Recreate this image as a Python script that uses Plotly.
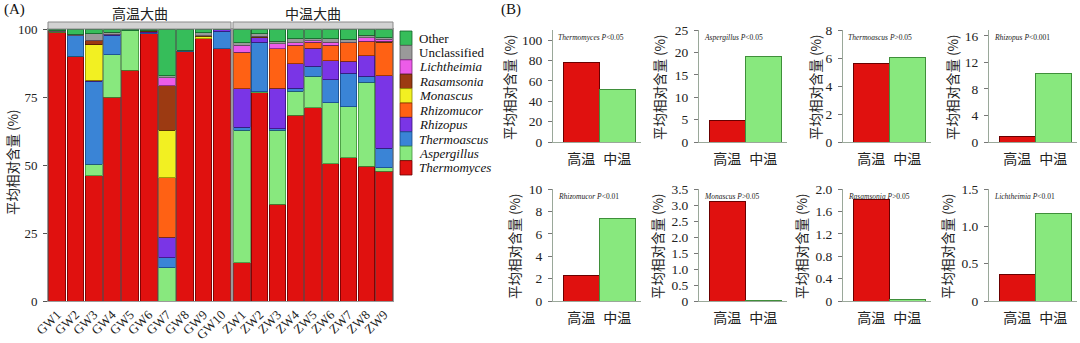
import plotly.graph_objects as go

W, H = 1080, 343

# ---------------- Panel A data ----------------
genera = ["Thermomyces", "Aspergillus", "Thermoascus", "Rhizopus", "Rhizomucor",
          "Monascus", "Rasamsonia", "Lichtheimia", "Unclassified", "Other"]
colors = ["#e0110f", "#88e87e", "#3a84d6", "#7a35e6", "#ff6114",
          "#f2f022", "#9c3a12", "#ec5ce8", "#9a9a9a", "#36bd5a"]
outlines = ["#6a0000", "#3f8f3a", "#174a86", "#3a137a", "#8a2c00",
            "#8a8a00", "#4a1a05", "#7a247a", "#555555", "#145f28"]

gw_samples = ["GW1", "GW2", "GW3", "GW4", "GW5", "GW6", "GW7", "GW8", "GW9", "GW10"]
zw_samples = ["ZW1", "ZW2", "ZW3", "ZW4", "ZW5", "ZW6", "ZW7", "ZW8", "ZW9"]

gw_thermomyces = [98.8, 90.0, 46.1, 74.9, 84.8, 98.2, 0.0, 91.8, 96.5, 92.7]
gw_aspergillus = [0.2, 0.0, 4.1, 15.7, 14.6, 0.0, 12.2, 0.0, 0.0, 0.0]
gw_thermoascus = [0.0, 7.7, 30.6, 7.1, 0.0, 0.4, 3.7, 0.2, 0.0, 6.4]
gw_rhizopus = [0.0, 0.0, 0.3, 0.3, 0.0, 0.5, 7.6, 0.0, 0.0, 0.9]
gw_rhizomucor = [0.0, 0.0, 0.0, 0.0, 0.0, 0.0, 21.8, 0.0, 0.0, 0.0]
gw_monascus = [0.0, 0.0, 13.1, 0.0, 0.0, 0.0, 17.4, 0.0, 0.8, 0.0]
gw_rasamsonia = [0.2, 0.0, 1.6, 0.0, 0.0, 0.3, 16.5, 0.0, 0.3, 0.0]
gw_lichtheimia = [0.0, 0.0, 0.0, 0.0, 0.0, 0.0, 2.8, 0.0, 0.0, 0.0]
gw_unclassified = [0.1, 0.3, 2.4, 0.8, 0.0, 0.0, 0.9, 0.1, 1.0, 0.0]
gw_other = [0.7, 2.0, 1.8, 1.2, 0.6, 0.6, 17.1, 7.9, 1.4, 0.0]

zw_thermomyces = [14.1, 76.5, 35.5, 68.3, 71.0, 50.4, 52.6, 49.6, 47.7]
zw_aspergillus = [48.7, 0.4, 27.3, 8.8, 11.6, 22.4, 18.8, 30.8, 1.3]
zw_thermoascus = [1.1, 18.2, 0.5, 1.2, 3.7, 8.6, 12.4, 2.2, 7.1]
zw_rhizopus = [14.1, 1.8, 15.0, 9.0, 6.7, 7.0, 4.3, 7.6, 26.8]
zw_rhizomucor = [13.4, 0.0, 14.4, 6.7, 2.1, 5.6, 6.8, 5.3, 12.2]
zw_monascus = [0.0, 0.0, 0.0, 0.0, 0.0, 0.0, 0.0, 0.0, 0.0]
zw_rasamsonia = [0.0, 0.5, 0.0, 0.0, 0.0, 0.0, 0.0, 0.0, 0.4]
zw_lichtheimia = [2.6, 0.0, 1.8, 0.9, 0.6, 1.1, 0.3, 1.2, 0.8]
zw_unclassified = [0.9, 0.9, 1.0, 1.6, 0.8, 1.4, 1.1, 1.0, 0.5]
zw_other = [5.1, 1.7, 4.5, 3.5, 3.5, 3.5, 3.7, 2.3, 3.2]

gw_values = [gw_thermomyces, gw_aspergillus, gw_thermoascus, gw_rhizopus, gw_rhizomucor,
             gw_monascus, gw_rasamsonia, gw_lichtheimia, gw_unclassified, gw_other]
zw_values = [zw_thermomyces, zw_aspergillus, zw_thermoascus, zw_rhizopus, zw_rhizomucor,
             zw_monascus, zw_rasamsonia, zw_lichtheimia, zw_unclassified, zw_other]

facet_titles = ["高温大曲", "中温大曲"]
a_ticks = [0, 25, 50, 75, 100]

# ---------------- Panel B data ----------------
b_genera = ["Thermomyces", "Aspergillus", "Thermoascus", "Rhizopus",
            "Rhizomucor", "Monascus", "Rasamsonia", "Lichtheimia"]
b_pvals = ["&lt;0.05", "&lt;0.05", "&gt;0.05", "&lt;0.001",
           "&lt;0.01", "&gt;0.05", "&gt;0.05", "&lt;0.01"]
b_groups = ["高温", "中温"]
b_high = [78.0, 4.9, 5.6, 0.8, 2.3, 3.1, 1.82, 0.36]
b_mid = [52.0, 19.1, 6.05, 10.3, 7.35, 0.015, 0.03, 1.17]
b_ymax = [110, 25, 8, 16.9, 10, 3.5, 2.0, 1.5]
b_tickvals = [[0, 20, 40, 60, 80, 100], [0, 5, 10, 15, 20, 25], [0, 2, 4, 6, 8],
              [0, 4, 8, 12, 16], [0, 2, 4, 6, 8, 10], [0, 0.5, 1, 1.5, 2, 2.5, 3, 3.5],
              [0, 0.4, 0.8, 1.2, 1.6, 2.0], [0, 0.5, 1.0, 1.5]]
b_ticktext = [["0", "20", "40", "60", "80", "100"], ["0", "5", "10", "15", "20", "25"],
              ["0", "2", "4", "6", "8"], ["0", "4", "8", "12", "16"],
              ["0", "2", "4", "6", "8", "10"],
              ["0", "0.5", "1.0", "1.5", "2.0", "2.5", "3.0", "3.5"],
              ["0", "0.4", "0.8", "1.2", "1.6", "2.0"], ["0", "0.5", "1.0", "1.5"]]

SERIF = "Liberation Serif, Times New Roman, Noto Sans CJK SC, serif"
CJK = "Noto Sans CJK SC, Liberation Serif, serif"

def px(x):
    return x / W

def py(y):
    return 1 - y / H

fig = go.Figure()

# ---------------- Panel A ----------------
a_left = [(48, 231), (233, 393)]
a_top, a_bot = 29, 301

for fi, (samples, values) in enumerate([(gw_samples, gw_values), (zw_samples, zw_values)]):
    xa = "x" if fi == 0 else "x2"
    ya = "y" if fi == 0 else "y2"
    for gi, g in enumerate(genera):
        fig.add_trace(go.Bar(
            x=samples, y=values[gi], name=g, xaxis=xa, yaxis=ya,
            marker=dict(color=colors[gi], line=dict(color=outlines[gi], width=0.8)),
            showlegend=False,
        ))

axis_common_a = dict(showgrid=False, zeroline=False, showline=True, linecolor="#9a9a9a",
                     linewidth=1, mirror=True, automargin=False)
fig.update_layout(
    xaxis=dict(domain=[px(a_left[0][0]), px(a_left[0][1])], anchor="y",
               tickangle=-45, tickfont=dict(family=SERIF, size=13, color="#222"),
               ticks="", **axis_common_a),
    xaxis2=dict(domain=[px(a_left[1][0]), px(a_left[1][1])], anchor="y2",
                tickangle=-45, tickfont=dict(family=SERIF, size=13, color="#222"),
                ticks="", **axis_common_a),
    yaxis=dict(domain=[py(a_bot), py(a_top)], anchor="x", range=[0, 100],
               tickvals=a_ticks, ticktext=[str(t) for t in a_ticks],
               tickfont=dict(family=SERIF, size=13, color="#222"),
               ticks="outside", ticklen=4, tickcolor="#555", ticklabelstandoff=3,
               **axis_common_a),
    yaxis2=dict(domain=[py(a_bot), py(a_top)], anchor="x2", range=[0, 100],
                showticklabels=False, ticks="", **axis_common_a),
)

shapes = []
annotations = []

# facet strips
for fi, (x0, x1) in enumerate(a_left):
    shapes.append(dict(type="rect", xref="paper", yref="paper",
                       x0=px(x0), x1=px(x1), y0=py(29), y1=py(22),
                       fillcolor="#d2d2d2", line=dict(color="#8a8a8a", width=1)))
    annotations.append(dict(xref="paper", yref="paper", x=px((x0 + x1) / 2), y=py(13),
                            text=facet_titles[fi], showarrow=False,
                            font=dict(family=CJK, size=14, color="#222"),
                            xanchor="center", yanchor="middle"))

# legend (manual)
leg_x0, leg_y0, leg_h = 400, 31, 14.4
for i, gi in enumerate(range(len(genera) - 1, -1, -1)):
    y0 = leg_y0 + i * leg_h
    shapes.append(dict(type="rect", xref="paper", yref="paper",
                       x0=px(leg_x0), x1=px(leg_x0 + 12), y0=py(y0 + leg_h), y1=py(y0),
                       fillcolor=colors[gi], line=dict(color=outlines[gi], width=0.8)))
    name = genera[gi]
    txt = name if name in ("Other", "Unclassified") else f"<i>{name}</i>"
    annotations.append(dict(xref="paper", yref="paper", x=px(417), y=py(y0 + leg_h / 2),
                            text=txt, showarrow=False, xanchor="left", yanchor="middle",
                            font=dict(family=SERIF, size=13, color="#111")))

# panel A y title and labels
annotations.append(dict(xref="paper", yref="paper", x=px(12), y=py(162),
                        text="平均相对含量 (%)", textangle=-90, showarrow=False,
                        font=dict(family=CJK, size=13.5, color="#222"),
                        xanchor="center", yanchor="middle"))
annotations.append(dict(xref="paper", yref="paper", x=px(2), y=py(9),
                        text="(A)", showarrow=False, xanchor="left", yanchor="middle",
                        font=dict(family=SERIF, size=15, color="#111")))
annotations.append(dict(xref="paper", yref="paper", x=px(499), y=py(9),
                        text="(B)", showarrow=False, xanchor="left", yanchor="middle",
                        font=dict(family=SERIF, size=15, color="#111")))

# ---------------- Panel B ----------------
col_x = [553, 699, 843, 989]
row_y = [(30, 142), (189, 301)]
title_x = [509, 659, 815, 952, 514, 657, 801, 947]
bar_colors = ["#e0110f", "#88e87e"]
bar_lines = ["#6a0000", "#3f8f3a"]
plot_w = 88

for k in range(8):
    r, c = divmod(k, 4)
    n = k + 3
    xa, ya = f"x{n}", f"y{n}"
    fig.add_trace(go.Bar(
        x=[0, 1], y=[b_high[k], b_mid[k]], xaxis=xa, yaxis=ya, width=1.0,
        marker=dict(color=bar_colors, line=dict(color=bar_lines, width=1)),
        showlegend=False,
    ))
    x0 = col_x[c]
    yt, yb = row_y[r]
    fig.layout[f"xaxis{n}"] = dict(
        domain=[px(x0), px(x0 + plot_w)], anchor=ya, range=[-0.78, 1.66],
        tickvals=[0, 1], ticktext=b_groups, showgrid=False, zeroline=False,
        showline=True, linecolor="#9aa89a", linewidth=1, ticks="", automargin=False,
        ticklabelstandoff=4,
        tickfont=dict(family=CJK, size=14, color="#222"))
    fig.layout[f"yaxis{n}"] = dict(
        domain=[py(yb), py(yt)], anchor=xa, range=[0, b_ymax[k]],
        tickvals=b_tickvals[k], ticktext=b_ticktext[k], showgrid=False, zeroline=False,
        showline=True, linecolor="#9aa89a", linewidth=1, ticks="outside", ticklen=4,
        tickcolor="#777", automargin=False, ticklabelstandoff=3,
        tickfont=dict(family=SERIF, size=13.5, color="#222"))
    annotations.append(dict(xref="paper", yref="paper", x=px(x0 + 3), y=py(yt + 1),
                            text=f"<i>{b_genera[k]} P</i>{b_pvals[k]}",
                            showarrow=False, xanchor="left", yanchor="top",
                            font=dict(family=SERIF, size=7.5, color="#222")))
    annotations.append(dict(xref="paper", yref="paper", x=px(title_x[k]),
                            y=py((yt + yb) / 2 + 1),
                            text="平均相对含量 (%)", textangle=-90, showarrow=False,
                            font=dict(family=CJK, size=13.5, color="#222"),
                            xanchor="center", yanchor="middle"))

fig.update_layout(
    width=W, height=H, margin=dict(l=0, r=0, t=0, b=0, pad=0, autoexpand=False),
    paper_bgcolor="white", plot_bgcolor="white",
    barmode="stack", bargap=0.08, showlegend=False,
    shapes=shapes, annotations=annotations,
)

fig.write_html("out.html")
